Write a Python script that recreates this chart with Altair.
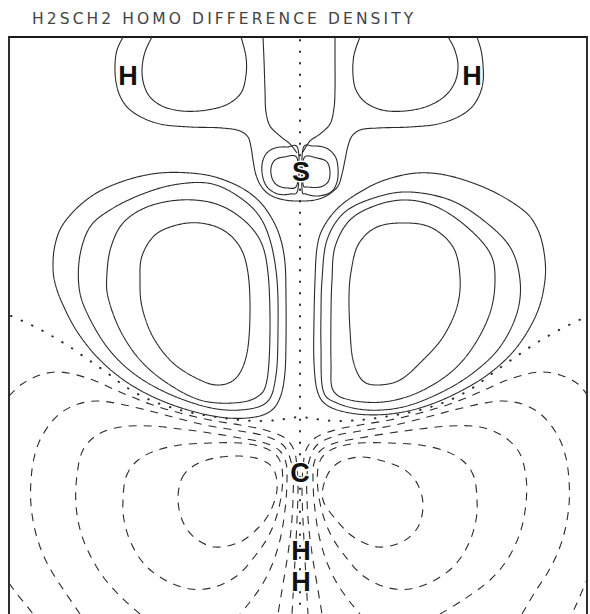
import altair as alt
import pandas as pd

# ---------------------------------------------------------------
# Contour lines of the H2SCH2 HOMO difference density.
# Coordinates are in plot-frame units (x to the right, y downward).
# ---------------------------------------------------------------

TITLE = "H2SCH2 HOMO DIFFERENCE DENSITY"

# atom labels and their positions
ATOMS = ["H", "H", "S", "C", "H", "H"]
ATOM_X = [128, 472, 301, 300, 301, 301]
ATOM_Y = [77, 77, 173, 474, 552, 583]

# --- positive (solid) contours around the S-H region -----------
H_LOOP_L = [(152,37),(145,52),(142,70),(144,85),(150,97),(162,106),(182,111),(207,110),
            (228,104),(241,93),(246,75),(246,57),(241,37)]
H_LOOP_R = [(360,37),(354,55),(353,75),(356,90),(365,102),(382,110),(405,111),(428,106),
            (445,96),(455,82),(458,65),(454,48),(448,37)]
UPPER_OUTER = [(123,37),(117,50),(115,65),(116,82),(120,96),(128,108),(141,117),(160,124),
               (190,127),(222,128),(240,131),(248,137),(251,147),(253,160),(256,175),(261,186),
               (270,195),(285,200),(300,201),(315,200),(328,195),(338,186),(342,174),(345,160),
               (348,146),(352,136),(360,130),(378,128),(410,127),(438,124),(458,117),(471,108),
               (479,96),(483,82),(483,65),(481,50),(477,37)]
NEAR_AXIS_L = [(263,37),(264,60),(265,90),(266,112),(270,126),(280,136),(290,144),(297,153)]
NEAR_AXIS_R = [(335,37),(335,60),(335,90),(334,108),(330,124),(320,134),(310,141),(303,152)]
S_OUT_L = [(298,149),(287,147),(275,148),(266,154),(262,165),(263,178),(268,188),(278,194),
           (290,194),(298,189)]
S_IN_L = [(297,158),(284,157),(275,160),(271,168),(272,178),(277,185),(287,188),(297,185)]
S_OUT_R = [(303,149),(313,146),(326,148),(335,156),(338,168),(337,182),(331,192),(318,196),
           (306,194),(302,189)]
S_IN_R = [(304,158),(317,158),(327,162),(330,172),(328,182),(320,187),(308,187),(303,184)]

# --- positive (solid) lobes beside the S-C bond ------------------
LOBE_L1 = [(53,265),(55,245),(62,226),(78,207),(100,191),(130,179),(160,173),(190,173),
           (215,177),(240,187),(258,200),(271,217),(280,237),(285,263),(286,300),(286,340),
           (285,372),(281,395),(272,410),(255,417),(228,418),(195,412),(160,400),(128,383),
           (100,360),(78,333),(63,305),(55,283)]
LOBE_L2 = [(79,287),(80,255),(90,227),(110,210),(140,195),(173,185),(207,183),(233,193),
           (257,213),(270,240),(277,280),(278,330),(276,375),(267,402),(240,410),(207,407),
           (167,393),(133,373),(107,347),(87,313)]
LOBE_L3 = [(108,297),(107,273),(111,247),(123,223),(147,207),(180,200),(213,203),(240,217),
           (260,240),(268,273),(270,330),(267,380),(257,397),(233,403),(200,400),(167,383),
           (140,360),(120,330)]
LOBE_L4 = [(140,280),(142,256),(155,235),(177,225),(200,223),(223,230),(240,247),(248,273),
           (250,313),(247,353),(237,377),(220,385),(200,380),(173,363),(153,337),(142,307)]
LOBE_R1 = [(314,320),(315,280),(317,248),(323,228),(338,208),(360,192),(385,180),(417,173),
           (450,176),(490,190),(523,210),(537,228),(544,252),(545,280),(537,313),(517,347),
           (490,373),(457,393),(423,407),(390,414),(357,414),(330,407),(318,393),(314,363)]
LOBE_R2 = [(321,313),(322,280),(327,240),(345,212),(377,197),(410,192),(450,200),(483,220),
           (510,247),(520,280),(517,313),(500,347),(473,373),(440,393),(403,407),(367,410),
           (337,403),(323,390),(321,347)]
LOBE_R3 = [(331,313),(332,280),(335,247),(350,220),(377,205),(407,200),(437,207),(467,227),
           (490,253),(495,280),(490,313),(473,347),(450,373),(417,393),(383,402),(350,400),
           (333,390),(331,363)]
LOBE_R4 = [(349,297),(351,272),(358,245),(375,228),(400,223),(430,227),(453,247),(460,277),
           (457,307),(443,337),(423,360),(400,380),(377,385),(362,380),(353,360),(350,330)]

# --- zero (dotted) contours --------------------------------------
ZERO_LINE = [(11,316),(27,323),(43,331),(57,339),(70,347),(83,356),(96,365),(110,375),
             (126,387),(150,400),(180,410),(210,416),(240,420),(265,421),(285,419),(300,417),
             (315,419),(335,421),(360,420),(390,416),(420,410),(450,400),(474,387),(490,375),
             (504,365),(517,356),(530,347),(543,339),(557,331),(573,323),(588,316)]
SYMMETRY_AXIS = [(300,40),(300,614)]

# --- negative (dashed) contours around the CH2 group -------------
NEG_L0 = [(9,396),(22,384),(40,375),(60,372),(90,379),(120,392),(150,404),(180,413),(210,420),
          (240,425),(265,430),(285,438),(294,450),(297,468),(298,490),(297,520),(295,560),
          (292,614)]
NEG_L1 = [(80,614),(65,592),(52,572),(42,552),(35,530),(31,505),(31,480),(34,458),(40,440),
          (50,424),(62,412),(78,404),(97,401),(120,404),(150,411),(180,419),(210,426),(240,431),
          (265,436),(283,445),(290,458),(293,475),(293,500),(291,530),(287,560),(282,590),
          (278,614)]
NEG_L2 = [(140,614),(122,598),(104,578),(91,557),(81,533),(76,505),(77,475),(83,450),(97,435),
          (120,427),(150,426),(180,429),(210,433),(240,438),(265,443),(280,451),(286,463),
          (287,480),(285,510),(280,540),(272,565),(262,585),(250,602),(240,614)]
NEG_L3 = [(123,500),(126,477),(137,461),(155,451),(180,445),(210,443),(240,443),(262,447),
          (276,455),(282,468),(282,490),(277,515),(268,537),(255,556),(238,575),(215,587),
          (190,589),(165,580),(145,565),(131,543),(124,520)]
NEG_L4 = [(178,500),(182,478),(195,465),(215,458),(240,456),(262,460),(274,470),(277,490),
          (270,512),(258,528),(240,542),(215,547),(195,538),(183,522)]
NEG_CORNER_L = [(9,583),(17,594),(27,606),(33,614)]

NEG_R0 = [(588,396),(578,384),(560,375),(540,372),(510,379),(480,392),(450,404),(420,413),
          (390,420),(360,425),(335,430),(315,438),(306,450),(303,468),(302,490),(303,520),
          (305,560),(308,614)]
NEG_R1 = [(522,614),(535,592),(548,572),(558,552),(565,530),(569,505),(569,480),(566,458),
          (560,440),(550,424),(538,412),(522,404),(503,401),(480,404),(450,411),(420,419),
          (390,426),(360,431),(335,436),(317,445),(310,458),(307,475),(307,500),(309,530),
          (313,560),(318,590),(322,614)]
NEG_R2 = [(440,614),(463,600),(490,580),(507,560),(520,533),(526,503),(526,477),(519,452),
          (503,436),(480,427),(450,426),(420,429),(390,433),(360,438),(335,443),(320,451),
          (314,463),(313,480),(315,510),(320,540),(328,565),(338,585),(350,602),(360,614)]
NEG_R3 = [(477,500),(474,477),(463,461),(445,451),(420,445),(390,443),(360,443),(338,447),
          (324,455),(318,468),(318,490),(323,515),(332,537),(345,556),(362,575),(385,587),
          (410,589),(435,580),(455,565),(469,543),(476,520)]
NEG_R4 = [(323,500),(326,478),(338,463),(360,457),(383,461),(405,470),(418,485),(423,505),
          (418,527),(402,542),(378,547),(355,538),(338,522)]
NEG_CORNER_R = [(589,575),(583,589),(577,603),(572,614)]

# (name, style, closed, points)
CONTOURS = [
    ("h_loop_l", "solid", False, H_LOOP_L), ("h_loop_r", "solid", False, H_LOOP_R),
    ("upper_outer", "solid", False, UPPER_OUTER),
    ("near_axis_l", "solid", False, NEAR_AXIS_L), ("near_axis_r", "solid", False, NEAR_AXIS_R),
    ("s_out_l", "solid", True, S_OUT_L), ("s_in_l", "solid", True, S_IN_L),
    ("s_out_r", "solid", True, S_OUT_R), ("s_in_r", "solid", True, S_IN_R),
    ("lobe_l1", "solid", True, LOBE_L1), ("lobe_l2", "solid", True, LOBE_L2),
    ("lobe_l3", "solid", True, LOBE_L3), ("lobe_l4", "solid", True, LOBE_L4),
    ("lobe_r1", "solid", True, LOBE_R1), ("lobe_r2", "solid", True, LOBE_R2),
    ("lobe_r3", "solid", True, LOBE_R3), ("lobe_r4", "solid", True, LOBE_R4),
    ("zero", "dot", False, ZERO_LINE), ("axis", "dot", False, SYMMETRY_AXIS),
    ("neg_l0", "dash", False, NEG_L0), ("neg_l1", "dash", False, NEG_L1),
    ("neg_l2", "dash", False, NEG_L2), ("neg_l3", "dash", True, NEG_L3),
    ("neg_l4", "dash", True, NEG_L4), ("neg_corner_l", "dash", False, NEG_CORNER_L),
    ("neg_r0", "dash", False, NEG_R0), ("neg_r1", "dash", False, NEG_R1),
    ("neg_r2", "dash", False, NEG_R2), ("neg_r3", "dash", True, NEG_R3),
    ("neg_r4", "dash", True, NEG_R4), ("neg_corner_r", "dash", False, NEG_CORNER_R),
]

rows = []
for name, style, closed, pts in CONTOURS:
    for i, (x, y) in enumerate(pts):
        rows.append({"cid": name, "style": style, "closed": closed, "ord": i, "x": x, "y": y})
df = pd.DataFrame(rows)

X = alt.X("x:Q", scale=alt.Scale(domain=[9, 587], nice=False, zero=False), axis=None)
Y = alt.Y("y:Q", scale=alt.Scale(domain=[37, 637], nice=False, zero=False, reverse=True), axis=None)

STYLE = {
    "solid": dict(strokeDash=[1, 0], strokeWidth=1.1),
    "dash": dict(strokeDash=[8, 7], strokeWidth=1.1),
    "dot": dict(strokeDash=[0.5, 11], strokeWidth=2.0, strokeCap="round"),
}

layers = []
for style, opts in STYLE.items():
    for closed in (False, True):
        sub = df[(df["style"] == style) & (df["closed"] == closed)]
        if sub.empty:
            continue
        layers.append(
            alt.Chart(sub).mark_line(
                color="#2b2b2b",
                interpolate="cardinal-closed" if closed else "catmull-rom",
                clip=True,
                **opts,
            ).encode(x=X, y=Y, detail="cid:N", order="ord:Q")
        )

atoms = pd.DataFrame({"label": ATOMS, "x": ATOM_X, "y": ATOM_Y})
label_font = dict(
    font="Liberation Sans Narrow, Liberation Sans",
    fontSize=27,
    fontWeight="bold",
    align="center",
    baseline="middle",
)
# white outline underneath keeps the atom symbols legible over the contours
halo = alt.Chart(atoms).mark_text(
    color="white", stroke="white", strokeWidth=3, **label_font
).encode(x=X, y=Y, text="label:N")
labels = alt.Chart(atoms).mark_text(color="#111", **label_font).encode(
    x=X, y=Y, text="label:N"
)
layers += [halo, labels]

# chart heading, letter-spaced like a plotter caption
heading = pd.DataFrame({"text": ["\u2009".join(TITLE)]})
title_mark = alt.Chart(heading).mark_text(
    font="DejaVu Sans",
    fontSize=15.5,
    color="#444",
    align="left",
    baseline="alphabetic",
).encode(x=alt.value(23), y=alt.value(-13), text="text:N")
layers.append(title_mark)

chart = alt.layer(*layers).properties(
    width=578,
    height=600,
    background="white",
    autosize=alt.AutoSizeParams(type="none"),
    padding={"left": 9, "top": 37, "right": 3, "bottom": 0},
).configure_view(stroke="#1a1a1a", strokeWidth=1.8)

chart.save("out.html", embed_options={"renderer": "svg", "actions": False})
